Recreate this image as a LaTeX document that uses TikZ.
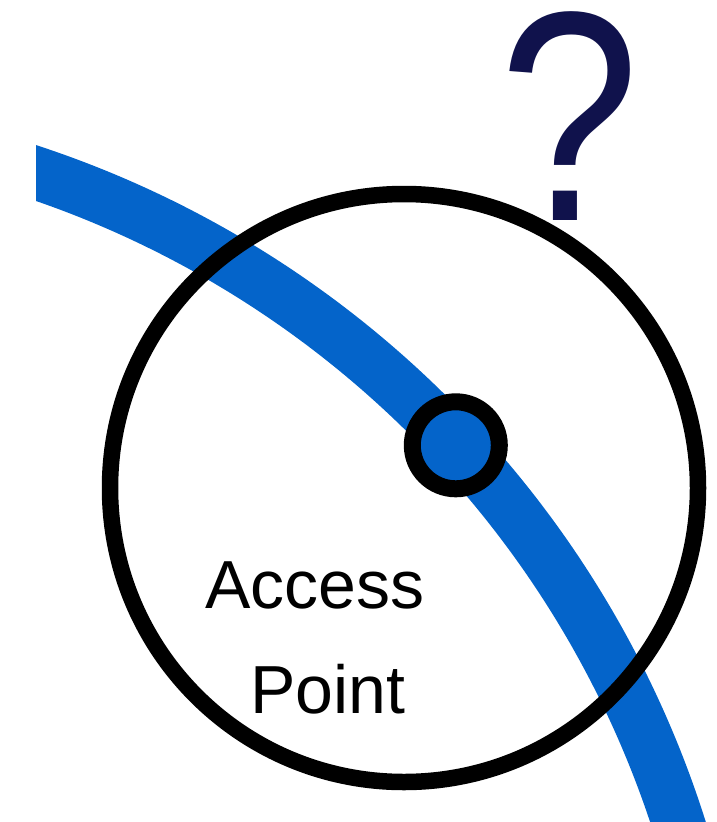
\documentclass[tikz,border=0pt]{standalone}
\usepackage{fontspec}
\setmainfont{Liberation Sans}
\definecolor{apblue}{RGB}{4,100,202}
\definecolor{qnavy}{RGB}{16,18,76}

\begin{document}
\begin{tikzpicture}[x=1pt,y=1pt,line cap=butt,
  ring/.style={draw=black,line width=17pt},
  lbl/.style={inner sep=0pt,anchor=base,font=\fontsize{68}{80}\selectfont}]
  \useasboundingbox (0,0) rectangle (717,-822);
  % 信号路径（蓝色弧线）
  \begin{scope}
    \clip (36,0) rectangle (717,-822);
    \draw[apblue,line width=53pt] (-287.4,-1134.9) ++(76:1014.8) arc (76:10:1014.8);
  \end{scope}
  % 覆盖范围
  \draw[ring,line width=16.5pt] (404,-488) circle (294);
  % 接入点
  \draw[ring,fill=apblue] (455.8,-445.3) circle (43.5);
  \node[lbl] (access) at (315,-608) {Access};
  \node[lbl] (point) at (327.5,-713) {Point};
  % 问号
  \node[inner sep=0pt,anchor=base,text=qnavy,font=\fontsize{277}{300}\selectfont] (qmark) at (569.5,-220) {\scalebox{0.91}[1.08]{?}};
\end{tikzpicture}
\end{document}
